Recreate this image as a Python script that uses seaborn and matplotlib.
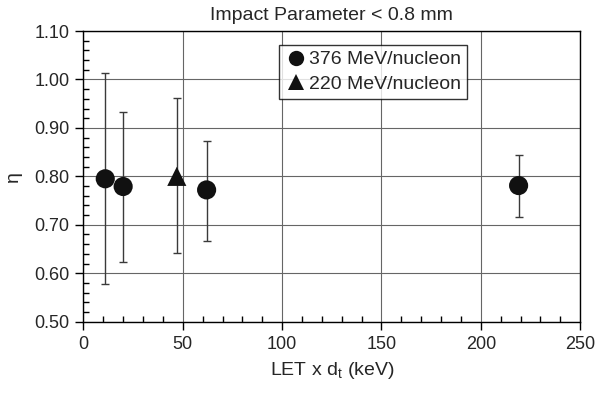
import numpy as np
import pandas as pd
import matplotlib
matplotlib.use("Agg")
import matplotlib.pyplot as plt
from matplotlib.ticker import MultipleLocator
import seaborn as sns

# Données
let_376 = [11, 20, 62, 219]
eta_376 = [0.795, 0.779, 0.772, 0.781]
haut_376 = [1.013, 0.933, 0.872, 0.845]
bas_376 = [0.577, 0.624, 0.666, 0.716]

let_220 = [47]
eta_220 = [0.80]
haut_220 = [0.961]
bas_220 = [0.641]

labels = ["376 MeV/nucleon", "220 MeV/nucleon"]

sns.set_style("white")
plt.rcParams['font.family'] = ['Liberation Sans', 'DejaVu Sans']

df = pd.DataFrame({
    'LET': let_376 + let_220,
    'eta': eta_376 + eta_220,
    'haut': haut_376 + haut_220,
    'bas': bas_376 + bas_220,
    'energie': [labels[0]] * len(let_376) + [labels[1]] * len(let_220),
})

fig = plt.figure(figsize=(6, 3.95), dpi=100)
ax = fig.add_axes([0.139, 0.1856, 0.828, 0.7359])

# Barres d'erreur
yerr = np.array([df['eta'] - df['bas'], df['haut'] - df['eta']])
ax.errorbar(df['LET'], df['eta'], yerr=yerr, fmt='none', ecolor='#3a3a3a',
            elinewidth=1.0, capsize=3, capthick=1.0, zorder=2)

sns.scatterplot(data=df, x='LET', y='eta', style='energie',
                markers={labels[0]: 'o', labels[1]: '^'},
                color='#111111', s=190, edgecolor='none', ax=ax, zorder=3)

ax.set_xlim(0, 250)
ax.set_ylim(0.5, 1.1)
ax.xaxis.set_major_locator(MultipleLocator(50))
ax.xaxis.set_minor_locator(MultipleLocator(10))
ax.yaxis.set_major_locator(MultipleLocator(0.1))
ax.yaxis.set_minor_locator(MultipleLocator(0.02))
ax.yaxis.set_major_formatter(matplotlib.ticker.FormatStrFormatter('%.2f'))

ax.grid(True, which='major', color='#666666', linewidth=0.8)
ax.set_axisbelow(True)
for s in ax.spines.values():
    s.set_color('black')
    s.set_linewidth(1.0)

ax.tick_params(axis='both', which='major', direction='out', length=6,
               width=1, color='black', labelsize=13, pad=4,
               bottom=True, left=True, top=False, right=False)
ax.tick_params(axis='both', which='minor', direction='in', length=4,
               width=1, color='black', bottom=True, left=True,
               top=False, right=False)

ax.set_xlabel(r'LET x d$_\mathregular{t}$ (keV)', fontsize=14, labelpad=5)
ax.set_ylabel('η', fontsize=14, labelpad=9)
ax.set_title('Impact Parameter < 0.8 mm', fontsize=14, pad=8)

leg = ax.legend(loc='upper left', bbox_to_anchor=(0.394, 0.952), fontsize=14,
                frameon=True, fancybox=False, edgecolor='black',
                handletextpad=0.15, borderpad=0.3, labelspacing=0.35,
                handlelength=1.1, borderaxespad=0, markerscale=0.8)
leg.get_frame().set_linewidth(1.0)
leg.set_title(None)

fig.savefig('out.png', dpi=100)
